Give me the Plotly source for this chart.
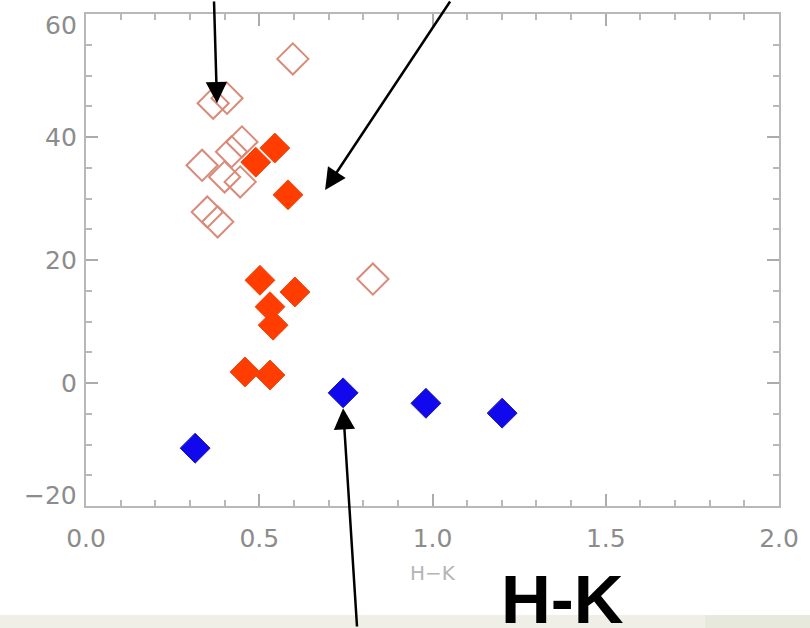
import plotly.graph_objects as go

# ---- data ----
open_x = [0.597, 0.367, 0.407, 0.335, 0.450, 0.420, 0.400, 0.445, 0.350, 0.380, 0.828]
open_y = [52.7, 45.5, 46.3, 35.4, 39.2, 37.6, 33.5, 32.7, 27.8, 26.2, 16.9]

filled_x = [0.490, 0.545, 0.583, 0.502, 0.603, 0.531, 0.540, 0.459, 0.531]
filled_y = [35.9, 38.2, 30.6, 16.7, 14.8, 12.4, 9.4, 1.8, 1.3]

blue_x = [0.315, 0.742, 0.981, 1.201]
blue_y = [-10.6, -1.6, -3.3, -4.9]

# arrow tips (data coords) and tail offsets (pixels)
arrow_tip_x = [0.378, 0.690, 0.742]
arrow_tip_y = [45.5, 31.4, -4.1]
arrow_ax = [-3, 126, 14]
arrow_ay = [-115, -200, 230]

x_ticks = [0.0, 0.5, 1.0, 1.5, 2.0]
x_ticktext = ["0.0", "0.5", "1.0", "1.5", "2.0"]
y_ticks = [-20, 0, 20, 40, 60]
y_ticktext = ["\u221220", "0", "20", "40", "60"]
# the end labels sit inside the frame in the reference (pixel nudge)
y_label_nudge = [11, 0, 0, 0, -11]

fig = go.Figure()

fig.add_trace(go.Scatter(
    x=open_x, y=open_y, mode="markers",
    marker=dict(symbol="diamond-open", size=24,
                line=dict(color="#d98a78", width=2), color="#d98a78"),
    showlegend=False, cliponaxis=False))

fig.add_trace(go.Scatter(
    x=filled_x, y=filled_y, mode="markers",
    marker=dict(symbol="diamond", size=23, color="#ff3d00",
                line=dict(color="#f04a10", width=1)),
    showlegend=False, cliponaxis=False))

fig.add_trace(go.Scatter(
    x=blue_x, y=blue_y, mode="markers",
    marker=dict(symbol="diamond", size=23, color="#1208ee",
                line=dict(color="#1a1ab0", width=1)),
    showlegend=False, cliponaxis=False))

tick_font = dict(family="DejaVu Sans, sans-serif", size=25, color="#8c8c8c")

annotations = []
for tx, ty, ax, ay in zip(arrow_tip_x, arrow_tip_y, arrow_ax, arrow_ay):
    annotations.append(dict(
        x=tx, y=ty, xref="x", yref="y", ax=ax, ay=ay, text="",
        showarrow=True, arrowhead=2, arrowsize=1.7, arrowwidth=2.5,
        arrowcolor="black", standoff=0, startstandoff=0))

# y tick labels drawn as text next to the axis
for val, txt, nud in zip(y_ticks, y_ticktext, y_label_nudge):
    annotations.append(dict(
        x=0, y=val, xref="paper", yref="y", text=txt, showarrow=False,
        xanchor="right", yanchor="middle", xshift=-7, yshift=nud,
        font=tick_font))

annotations.append(dict(
    x=0.688, y=-0.19, xref="paper", yref="paper", text="<b>H-K</b>",
    showarrow=False, xanchor="center", yanchor="middle",
    font=dict(family="Liberation Sans, Arial, sans-serif", size=69, color="black")))

axis_common = dict(
    showline=True, linecolor="#b8b8b8", linewidth=2, mirror="allticks",
    ticks="inside", ticklen=12, tickwidth=2, tickcolor="#acacac",
    showgrid=False, zeroline=False, tickfont=tick_font)

fig.update_xaxes(
    range=[0, 2], tickmode="array", tickvals=x_ticks, ticktext=x_ticktext,
    ticklabelstandoff=9,
    minor=dict(dtick=0.1, ticks="inside", ticklen=6, tickwidth=2,
               tickcolor="#b8b8b8", showgrid=False),
    title=dict(text="H\u2212K", standoff=14,
               font=dict(family="DejaVu Sans, sans-serif", size=20, color="#b4b4b4")),
    **axis_common)

fig.update_yaxes(
    range=[-20, 60], tickmode="array", tickvals=y_ticks,
    showticklabels=False,
    minor=dict(dtick=5, ticks="inside", ticklen=6, tickwidth=2,
               tickcolor="#b8b8b8", showgrid=False),
    **axis_common)

shapes = [
    dict(type="rect", xref="paper", yref="paper", x0=-0.13, x1=0.893,
         y0=-0.26, y1=-0.2215, fillcolor="#efefe7", line=dict(width=0), layer="below"),
    dict(type="rect", xref="paper", yref="paper", x0=0.893, x1=1.06,
         y0=-0.26, y1=-0.2215, fillcolor="#e6e9db", line=dict(width=0), layer="below"),
]

fig.update_layout(
    width=810, height=628,
    margin=dict(l=86, r=31, t=14, b=122),
    paper_bgcolor="white", plot_bgcolor="white",
    annotations=annotations, shapes=shapes, showlegend=False)

fig.write_html("out.html")
